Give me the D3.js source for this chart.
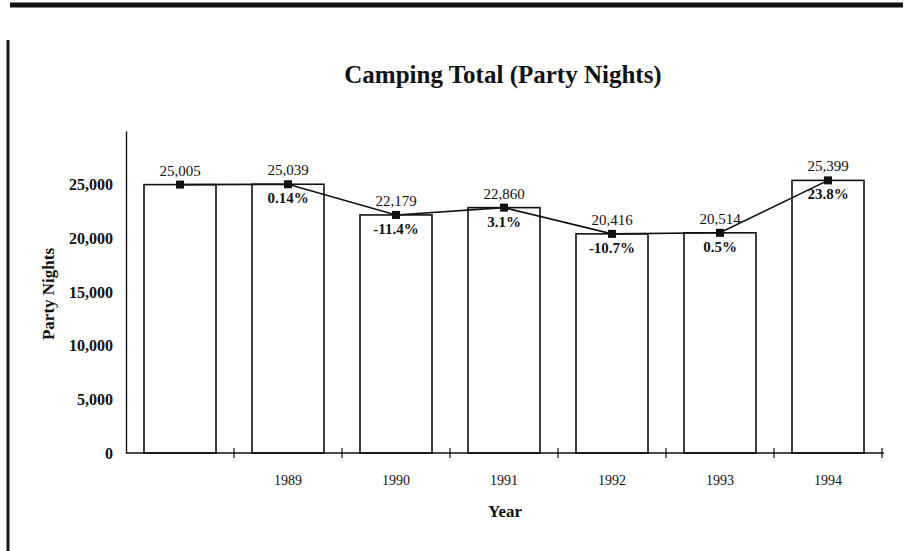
<!DOCTYPE html>
<html>
<head>
    <title>Camping Total (Party Nights)</title>
    <script src="https://d3js.org/d3.v7.min.js"></script>
    <style>
        body { margin: 0; background: #fff; }
        text { font-family: "Liberation Serif", "Times New Roman", serif; fill: #111; }
    </style>
</head>
<body>
    <div id="chart"></div>

    <script>
        // data
        const years = ["1988", "1989", "1990", "1991", "1992", "1993", "1994"];
        const yearLabels = ["", "1989", "1990", "1991", "1992", "1993", "1994"];
        const partyNights = [25005, 25039, 22179, 22860, 20416, 20514, 25399];
        const changeLabels = ["", "0.14%", "-11.4%", "3.1%", "-10.7%", "0.5%", "23.8%"];
        const yTicks = [0, 5000, 10000, 15000, 20000, 25000];

        const width = 912;
        const height = 551;
        const margin = { left: 126, right: 30, top: 131, bottom: 98 };

        const svg = d3.select("#chart")
            .append("svg")
            .attr("width", width)
            .attr("height", height);

        // page frame from the scanned report
        svg.append("line")
            .attr("x1", 10).attr("x2", 903)
            .attr("y1", 5).attr("y2", 5)
            .attr("stroke", "#111").attr("stroke-width", 5);
        svg.append("line")
            .attr("x1", 8).attr("x2", 8)
            .attr("y1", 40).attr("y2", height)
            .attr("stroke", "#111").attr("stroke-width", 3);

        const x = d3.scaleBand()
            .domain(years)
            .range([margin.left, margin.left + 756])
            .paddingInner(1 / 3)
            .paddingOuter(1 / 6);

        const y = d3.scaleLinear()
            .domain([0, 30000])
            .range([height - margin.bottom, margin.top]);

        // title
        svg.append("text")
            .attr("x", 503)
            .attr("y", 83)
            .attr("text-anchor", "middle")
            .attr("font-size", 25)
            .attr("font-weight", "bold")
            .text("Camping Total (Party Nights)");

        // bars
        svg.selectAll("rect.bar")
            .data(partyNights)
            .join("rect")
            .attr("class", "bar")
            .attr("x", (d, i) => x(years[i]))
            .attr("y", d => y(d))
            .attr("width", x.bandwidth())
            .attr("height", d => y(0) - y(d))
            .attr("fill", "#fff")
            .attr("stroke", "#111")
            .attr("stroke-width", 1.6);

        // y axis
        const yAxis = svg.append("g")
            .attr("transform", `translate(${margin.left},0)`)
            .call(d3.axisLeft(y).tickValues(yTicks).tickSize(0).tickPadding(13)
                .tickFormat(d3.format(",")));
        yAxis.select(".domain").attr("stroke", "#111").attr("stroke-width", 1.4);
        yAxis.selectAll("text")
            .attr("font-size", 16)
            .attr("font-weight", "bold")
            .attr("font-family", "Liberation Serif, serif");

        // x axis: tick marks at band boundaries
        const xBase = y(0);
        svg.append("line")
            .attr("x1", margin.left).attr("x2", margin.left + 758)
            .attr("y1", xBase).attr("y2", xBase)
            .attr("stroke", "#111").attr("stroke-width", 1.6);
        const bounds = d3.range(1, years.length + 1).map(i => margin.left + i * x.step());
        svg.selectAll("line.xtick")
            .data(bounds)
            .join("line")
            .attr("class", "xtick")
            .attr("x1", d => d).attr("x2", d => d)
            .attr("y1", xBase - 5).attr("y2", xBase + 5)
            .attr("stroke", "#111").attr("stroke-width", 1.2);

        svg.selectAll("text.year")
            .data(yearLabels)
            .join("text")
            .attr("class", "year")
            .attr("x", (d, i) => x(years[i]) + x.bandwidth() / 2)
            .attr("y", 485)
            .attr("text-anchor", "middle")
            .attr("font-size", 14)
            .text(d => d);

        // axis titles
        svg.append("text")
            .attr("x", 505)
            .attr("y", 517)
            .attr("text-anchor", "middle")
            .attr("font-size", 17)
            .attr("font-weight", "bold")
            .text("Year");

        svg.append("text")
            .attr("transform", "translate(54,294) rotate(-90)")
            .attr("text-anchor", "middle")
            .attr("font-size", 17)
            .attr("font-weight", "bold")
            .text("Party Nights");

        // trend line with square markers
        const cx = (d, i) => x(years[i]) + x.bandwidth() / 2;
        const line = d3.line()
            .x(cx)
            .y(d => y(d));

        svg.append("path")
            .datum(partyNights)
            .attr("d", line)
            .attr("fill", "none")
            .attr("stroke", "#111")
            .attr("stroke-width", 1.6);

        svg.selectAll("rect.marker")
            .data(partyNights)
            .join("rect")
            .attr("class", "marker")
            .attr("x", (d, i) => cx(d, i) - 4)
            .attr("y", d => y(d) - 4)
            .attr("width", 8)
            .attr("height", 8)
            .attr("fill", "#111");

        // value labels above, change labels below
        svg.selectAll("text.value")
            .data(partyNights)
            .join("text")
            .attr("class", "value")
            .attr("x", cx)
            .attr("y", d => y(d) - 9)
            .attr("text-anchor", "middle")
            .attr("font-size", 15)
            .text(d => d3.format(",")(d));

        svg.selectAll("text.change")
            .data(changeLabels)
            .join("text")
            .attr("class", "change")
            .attr("x", (d, i) => x(years[i]) + x.bandwidth() / 2)
            .attr("y", (d, i) => y(partyNights[i]) + 19)
            .attr("text-anchor", "middle")
            .attr("font-size", 15)
            .attr("font-weight", "bold")
            .text(d => d);
    </script>
</body>
</html>
